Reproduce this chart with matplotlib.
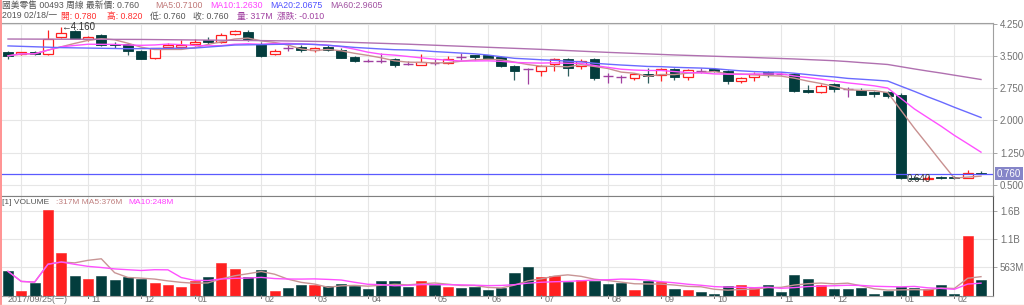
import matplotlib
matplotlib.use("Agg")
import matplotlib.pyplot as plt
import matplotlib.transforms as mtransforms
from matplotlib.patches import Rectangle
import pandas as pd

plt.rcParams['font.family'] = ['Liberation Sans', 'Noto Sans CJK TC', 'DejaVu Sans']

# weekly candles, 2017/09/25 .. 2019/02/18
opens = [3.60, 3.535, 3.595, 3.535, 3.94, 4.076, 3.883, 3.983, 3.785, 3.767,
         3.62, 3.456, 3.71, 3.71, 3.775, 3.867, 3.82, 4.006, 4.06, 3.774,
         3.535, 3.68, 3.697, 3.628, 3.697, 3.635, 3.464, 3.39, 3.39, 3.418,
         3.31, 3.287, 3.325, 3.34, 3.464, 3.51, 3.51, 3.48, 3.263, 3.186,
         3.14, 3.31, 3.418, 3.263, 3.418, 3.03, 3.00, 2.977, 3.077, 3.054,
         3.186, 3.016, 3.155, 3.194, 3.147, 2.92, 3.016, 3.124, 3.085, 3.07,
         2.707, 2.652, 2.84, 2.72, 2.71, 2.66, 2.66, 2.59, 0.66, 0.65,
         0.68, 0.69, 0.67, 0.78]
highs = [3.62, 3.60, 3.61, 4.10, 4.16, 4.10, 3.97, 4.00, 3.82, 3.79,
         3.63, 3.68, 3.80, 3.87, 3.89, 3.94, 4.03, 4.10, 4.10, 3.83,
         3.65, 3.75, 3.75, 3.71, 3.75, 3.68, 3.50, 3.42, 3.57, 3.44,
         3.39, 3.54, 3.42, 3.50, 3.56, 3.53, 3.53, 3.50, 3.29, 3.21,
         3.29, 3.44, 3.44, 3.42, 3.44, 3.11, 3.055, 3.09, 3.21, 3.22,
         3.21, 3.186, 3.217, 3.217, 3.17, 3.016, 3.13, 3.147, 3.124, 3.09,
         2.82, 2.84, 2.86, 2.78, 2.76, 2.68, 2.68, 2.63, 0.70, 0.70,
         0.70, 0.72, 0.85, 0.82]
lows = [3.43, 3.52, 3.53, 3.53, 3.92, 3.88, 3.85, 3.73, 3.68, 3.52,
        3.42, 3.43, 3.67, 3.67, 3.73, 3.77, 3.79, 3.98, 3.85, 3.48,
        3.51, 3.62, 3.58, 3.60, 3.61, 3.44, 3.36, 3.36, 3.34, 3.23,
        3.28, 3.28, 3.28, 3.31, 3.40, 3.40, 3.42, 3.25, 2.95, 2.845,
        3.03, 3.155, 3.03, 3.20, 2.94, 2.876, 2.876, 2.95, 2.876, 2.92,
        2.95, 2.95, 3.09, 3.13, 2.845, 2.876, 2.92, 3.016, 3.047, 2.65,
        2.63, 2.64, 2.65, 2.55, 2.58, 2.55, 2.52, 0.64, 0.64, 0.64,
        0.64, 0.65, 0.66, 0.76]
closes = [3.50, 3.59, 3.55, 3.89, 4.02, 3.89, 3.94, 3.75, 3.76, 3.62,
          3.43, 3.67, 3.76, 3.76, 3.82, 3.81, 3.98, 4.08, 3.87, 3.50,
          3.62, 3.68, 3.63, 3.67, 3.64, 3.46, 3.39, 3.39, 3.39, 3.29,
          3.31, 3.356, 3.325, 3.418, 3.464, 3.464, 3.43, 3.27, 3.14, 3.186,
          3.263, 3.418, 3.217, 3.387, 2.977, 3.03, 3.00, 3.077, 3.04, 3.186,
          3.016, 3.17, 3.155, 3.147, 2.92, 2.99, 3.08, 3.07, 3.085, 2.68,
          2.65, 2.80, 2.72, 2.72, 2.60, 2.62, 2.57, 0.66, 0.65, 0.67,
          0.66, 0.66, 0.78, 0.76]
# volume, millions of shares
volumes = [485, 81, 242, 1710, 848, 398, 337, 398, 310, 370,
           330, 242, 215, 162, 283, 364, 646, 525, 370, 505,
           94, 148, 202, 202, 182, 236, 195, 121, 296, 283,
           175, 296, 209, 175, 148, 175, 108, 155, 458, 579,
           364, 397, 276, 310, 290, 229, 242, 108, 290, 276,
           135, 108, 67, 40, 188, 202, 148, 215, 67, 418,
           337, 215, 135, 135, 155, 34, 81, 162, 155, 135,
           215, 40, 1186, 317]

# moving averages before a full window is available
ma20_head_idx = [0, 4, 9, 14, 17]
ma20_head_val = [3.73, 3.69, 3.665, 3.68, 3.75]
ma60_head_idx = [0, 10, 20, 24, 30, 35, 40, 45, 50, 55]
ma60_head_val = [3.89, 3.88, 3.85, 3.83, 3.77, 3.71, 3.65, 3.58, 3.52, 3.47]

month_idx = [1, 6, 10, 14, 19, 23, 27, 32, 36, 40, 45, 49, 53, 58, 62, 67, 71]
month_labels = ["", "11", "12", "01", "02", "03", "04", "05", "06", "07",
                "08", "09", "10", "11", "12", "01", "02"]
price_ticks = [4.25, 3.5, 2.75, 2.0, 1.25, 0.5]
vol_ticks = [563, 1126, 1689]
vol_tick_labels = ["563M", "1.1B", "1.6B"]

UP = "#ff2020"
DOWN = "#033d3d"
FLAT = "#a040a0"
GRID = "#e6e6e6"

n = len(closes)
xs = list(range(n))
cl = pd.Series(closes)
vs = pd.Series(volumes)
ma5 = cl.rolling(5, min_periods=1).mean()
ma10 = cl.rolling(10, min_periods=1).mean()
ma20 = cl.rolling(20).mean()
ma60 = cl.rolling(60).mean()
vma5 = vs.rolling(5, min_periods=1).mean()
vma10 = vs.rolling(10, min_periods=1).mean()

W, H = 1024, 306
fig = plt.figure(figsize=(W / 100, H / 100), dpi=100)
ax = fig.add_axes([2 / W, 110 / H, 991 / W, 173 / H])
axv = fig.add_axes([2 / W, 10.5 / H, 991 / W, 99.5 / H], sharex=ax)

for a in (ax, axv):
    a.set_xlim(-0.45, 73.9)
    for x in month_idx:
        a.axvline(x, color=GRID, lw=0.8, zorder=0)
    a.tick_params(axis='x', which='both', bottom=False, labelbottom=False)
    a.yaxis.tick_right()
    a.tick_params(axis='y', direction='out', length=3, width=0.6,
                  colors='#999999', labelcolor='#707070', labelsize=7, pad=2)
    a.spines["left"].set_visible(False)
    for s in ("top", "bottom", "right"):
        a.spines[s].set_color("#a0a0a0")
        a.spines[s].set_linewidth(0.8)

ax.set_ylim(0.245, 4.262)
ax.set_yticks(price_ticks)
ax.set_yticklabels(["%.3f" % t for t in price_ticks])
for t in price_ticks:
    ax.axhline(t, color=GRID, lw=0.8, zorder=0)

axv.set_ylim(0, 2000)
axv.set_yticks(vol_ticks)
axv.set_yticklabels(vol_tick_labels)
for t in vol_ticks:
    axv.axhline(t, color=GRID, lw=0.8, zorder=0)
axv.spines["right"].set_color("#555555")
axv.spines["top"].set_color("#808080")

# candles
bw = 0.74
for i in xs:
    o, h, l, c = opens[i], highs[i], lows[i], closes[i]
    if c > o:
        ax.vlines(i, l, o, color=UP, lw=0.9, zorder=2)
        ax.vlines(i, c, h, color=UP, lw=0.9, zorder=2)
        ax.add_patch(Rectangle((i - bw / 2, o), bw, c - o, facecolor="white",
                               edgecolor=UP, lw=0.9, zorder=3))
    elif c < o:
        ax.vlines(i, l, h, color="#2f5f5f", lw=0.9, zorder=2)
        ax.add_patch(Rectangle((i - bw / 2, c), bw, o - c, facecolor=DOWN,
                               edgecolor=DOWN, lw=0.6, zorder=3))
    else:
        ax.vlines(i, l, h, color=FLAT, lw=0.9, zorder=2)
        ax.hlines(o, i - bw / 2, i + bw / 2, color=FLAT, lw=1.0, zorder=3)

ax.plot(xs, ma5, color="#c89090", lw=1.0, zorder=4)
ax.plot(xs, ma10, color="#ff50ff", lw=1.0, zorder=4)
ax.plot(ma20_head_idx + xs[19:], ma20_head_val + list(ma20[19:]),
        color="#6a6aff", lw=1.0, zorder=4)
ax.plot(ma60_head_idx + xs[59:], ma60_head_val + list(ma60[59:]),
        color="#b070b0", lw=1.0, zorder=4)

# last price line and label
last = closes[-1]
ax.axhline(last, color="#5a5aff", lw=0.9, zorder=5)
blend = mtransforms.blended_transform_factory(ax.transAxes, ax.transData)
ax.text(1.004, last, "%.3f" % last, transform=blend, ha="left", va="center",
        fontsize=7, color="white", clip_on=False,
        bbox=dict(facecolor="#8585c8", edgecolor="none", pad=1.2))

# high / low markers
hi = highs.index(max(highs))
lo = lows.index(min(lows))
ax.text(hi, highs[hi], "\u2190%.3f" % highs[hi], ha="left", va="center",
        fontsize=7, color="#333333", zorder=6)
ax.text(lo + 0.45, lows[lo], "%.3f" % lows[lo], ha="left", va="center",
        fontsize=7, color="#333333", zorder=6)

# volume bars
for i in xs:
    col = UP if closes[i] > opens[i] else DOWN
    axv.bar(i, volumes[i], width=0.76, color=col, edgecolor=col, lw=0.4, zorder=2)
axv.plot(xs, vma5, color="#c89595", lw=1.0, zorder=3)
axv.plot(xs, vma10, color="#ff50ff", lw=1.0, zorder=3)

# bottom date labels
bt = mtransforms.blended_transform_factory(axv.transData, fig.transFigure)
axv.text(0, 6 / H, "2017/09/25(\u4e00)", transform=bt, ha="left", va="center",
         fontsize=6.5, color="#707070", clip_on=False)
for x, lab in zip(month_idx, month_labels):
    if lab:
        axv.plot([x, x], [8 / H, 11 / H], transform=bt, color="#707070",
                 lw=0.7, clip_on=False)
        axv.text(x + 0.25, 6 / H, lab, transform=bt, ha="left", va="center",
                 fontsize=6.5, color="#707070", clip_on=False)


def ftext(x, y, s, color, size=6.3):
    fig.text(x / W, 1 - y / H, s, color=color, fontsize=size,
             ha="left", va="center")


ftext(2, 5.5, "國美零售 00493 周線 最新價: 0.760", "#555555")
ftext(155, 5.5, "MA5:0.7100", "#c07878")
ftext(210, 5.5, "MA10:1.2630", "#ff40ff")
ftext(270, 5.5, "MA20:2.0675", "#5050ff")
ftext(330, 5.5, "MA60:2.9605", "#a050a0")

ftext(2, 16, "2019 02/18/一", "#555555")
ftext(61, 16, "開: 0.780", "#ff3030")
ftext(107, 16, "高: 0.820", "#ff3030")
ftext(150, 16, "低: 0.760", "#555555")
ftext(193, 16, "收: 0.760", "#555555")
ftext(237, 16, "量: 317M", "#a040a0")
ftext(277, 16, "漲跌: -0.010", "#a040a0")

ftext(2, 202.5, "[1] VOLUME", "#555555", 6.0)
ftext(56, 202.5, ":317M MA5:376M", "#c08080", 6.0)
ftext(128, 202.5, "MA10:248M", "#ff40ff", 6.0)

# frame lines of the window
fig.add_artist(plt.Line2D([1 / W, 1 / W], [0, 1], color="#ff8080", lw=1.2))
fig.add_artist(plt.Line2D([0, 1], [1.5 / H, 1.5 / H], color="#ffc8c8", lw=1.0))

fig.savefig("out.png", dpi=100)
